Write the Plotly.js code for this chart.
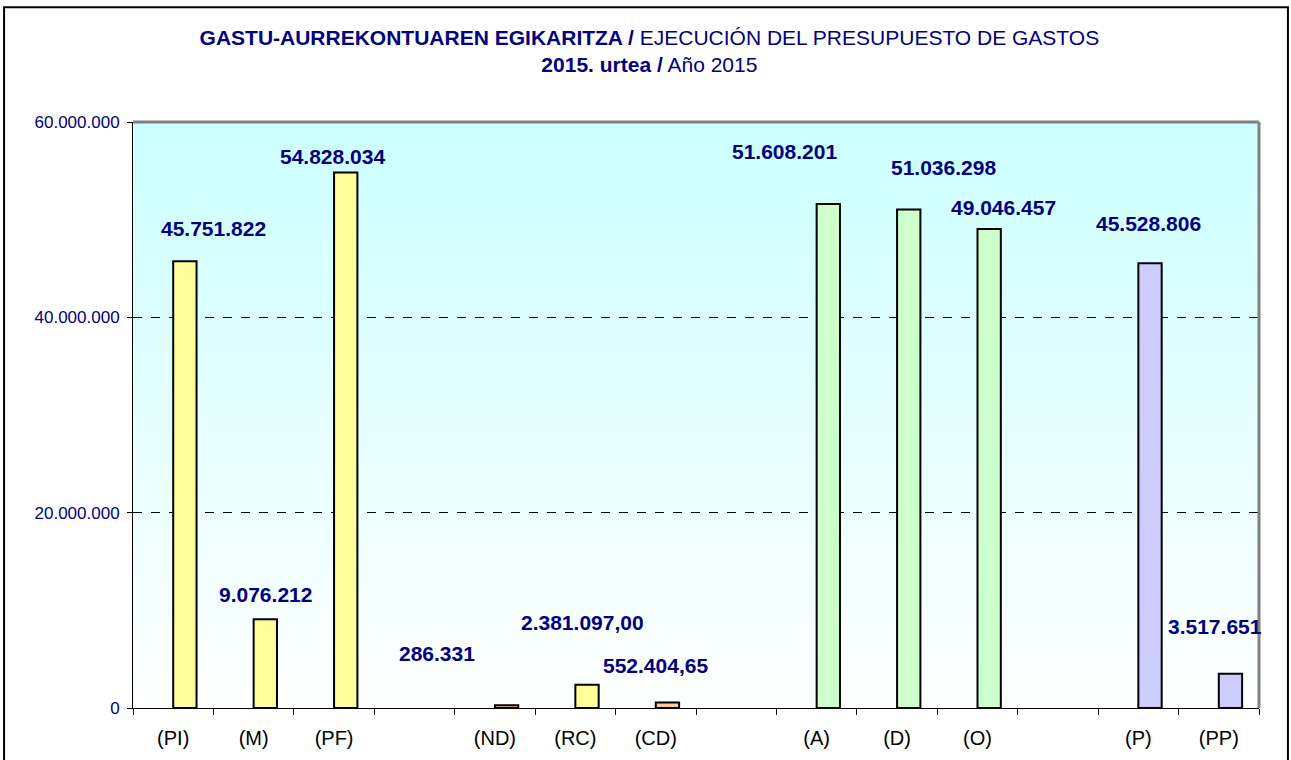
<!DOCTYPE html>
<html>
<head>
<meta charset="utf-8">
<script src="https://cdn.plot.ly/plotly-3.0.1.min.js"></script>
<style>
html,body{margin:0;padding:0;background:#fff;}
#chart{width:1291px;height:760px;}
</style>
</head>
<body>
<div id="chart"></div>
<script>
// ---- data ----
const categories = ["(PI)", "(M)", "(PF)", "", "(ND)", "(RC)", "(CD)", "", "(A)", "(D)", "(O)", "", "(P)", "(PP)"];
const values = [45751822, 9076212, 54828034, null, 286331, 2381097.00, 552404.65, null, 51608201, 51036298, 49046457, null, 45528806, 3517651];
const valueLabels = ["45.751.822", "9.076.212", "54.828.034", "", "286.331", "2.381.097,00", "552.404,65", "", "51.608.201", "51.036.298", "49.046.457", "", "45.528.806", "3.517.651"];
const barColors = ["#FFFF99", "#FFFF99", "#FFFF99", "#FFFF99", "#FFCC99", "#FFFF99", "#FFCC99", "#FFFF99", "#CCFFCC", "#CCFFCC", "#CCFFCC", "#CCFFCC", "#CCCCFF", "#CCCCFF"];
const yTicks = [0, 20000000, 40000000, 60000000];

// ---- label placement (styling, px offsets from category centre / bar top) ----
const labelDX = [40, 12, -2, 0, -58, 7, 0, 0, -32, 46, 26, 0, 10, -4];
const labelDY = [33, 25, 16, 0, 52, 62, 37, 0, 52, 42, 21, 0, 40, 47];

const keys = categories.map((c, i) => "c" + i);
const FONT = "Arial, 'Liberation Sans', sans-serif";
const NAVY = "#000080";

const trace = {
  type: "bar",
  x: keys,
  y: values,
  width: 0.29,
  offset: 0,
  marker: {color: barColors, line: {color: "#000000", width: 2}},
  hoverinfo: "skip"
};

const annotations = [];
keys.forEach((k, i) => {
  if (values[i] === null) return;
  annotations.push({
    x: k, y: values[i], xref: "x", yref: "y",
    text: "<b>" + valueLabels[i] + "</b>",
    showarrow: false, xanchor: "center", yanchor: "middle",
    xshift: labelDX[i], yshift: labelDY[i],
    font: {family: FONT, size: 21, color: NAVY}
  });
});

const bgSvg = "<svg xmlns='http://www.w3.org/2000/svg' width='100' height='100' preserveAspectRatio='none'>" +
  "<defs><linearGradient id='g' x1='0' y1='0' x2='0' y2='1'><stop offset='0' stop-color='#CCFFFF'/><stop offset='1' stop-color='#FFFFFF'/></linearGradient></defs>" +
  "<rect width='100' height='100' fill='url(#g)'/></svg>";

const layout = {
  width: 1291, height: 760,
  margin: {l: 133, r: 32, t: 122, b: 52},
  paper_bgcolor: "#FFFFFF",
  plot_bgcolor: "rgba(0,0,0,0)",
  separators: ",.",
  showlegend: false,
  font: {family: FONT, color: "#000000"},
  title: {
    text: "<b>GASTU-AURREKONTUAREN EGIKARITZA /</b> EJECUCIÓN DEL PRESUPUESTO DE GASTOS<br><b>2015. urtea /</b> Año 2015",
    font: {family: FONT, size: 21, color: NAVY},
    x: 0.503, xref: "container", xanchor: "center",
    y: 0.941, yref: "container", yanchor: "top"
  },
  xaxis: {
    type: "category",
    tickmode: "array", tickvals: keys, ticktext: categories,
    tickson: "boundaries", ticks: "outside", ticklen: 6, tickcolor: "#000000",
    ticklabelstandoff: 12,
    showline: true, linecolor: "#000000", linewidth: 1,
    showgrid: false, zeroline: false,
    range: [-0.5, 13.5],
    tickfont: {family: FONT, size: 20, color: "#000000"}
  },
  yaxis: {
    range: [0, 60000000],
    tickmode: "array", tickvals: yTicks,
    tickformat: ",d",
    ticks: "outside", ticklen: 5, tickcolor: "#000000",
    ticklabelstandoff: 4,
    showline: true, linecolor: "#000000", linewidth: 1,
    showgrid: true, gridcolor: "#000000", gridwidth: 1, griddash: "dash",
    zeroline: false,
    tickfont: {family: FONT, size: 17, color: NAVY}
  },
  images: [{
    source: "data:image/svg+xml;charset=utf-8," + encodeURIComponent(bgSvg),
    xref: "paper", yref: "paper", x: 0, y: 1, sizex: 1, sizey: 1,
    sizing: "stretch", layer: "below", xanchor: "left", yanchor: "top"
  }],
  shapes: [
    {type: "line", xref: "paper", yref: "paper", x0: 0, x1: 1, y0: 1, y1: 1, line: {color: "#808080", width: 3}},
    {type: "line", xref: "paper", yref: "paper", x0: 1, x1: 1, y0: 0, y1: 1, line: {color: "#808080", width: 3}},
    {type: "rect", xref: "paper", yref: "paper", x0: -0.1145, x1: 1.0257, y0: -0.12, y1: 1.196, line: {color: "#000000", width: 2}, fillcolor: "rgba(0,0,0,0)"}
  ],
  annotations: annotations
};

Plotly.newPlot("chart", [trace], layout, {displayModeBar: false, staticPlot: true});
</script>
</body>
</html>
